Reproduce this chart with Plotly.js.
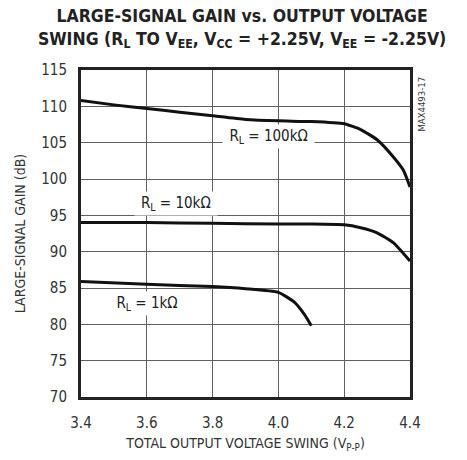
<!DOCTYPE html>
<html><head><meta charset="utf-8">
<script src="https://cdn.plot.ly/plotly-3.0.1.min.js"></script>
<style>body{margin:0;background:#fff}#c{width:467px;height:460px}
.main-svg text{font-stretch:condensed !important}</style>
</head><body><div id="c"></div>
<script>
const x100k = [3.4, 3.5, 3.6, 3.7, 3.8, 3.9, 4.0, 4.1, 4.2, 4.25, 4.3, 4.35, 4.38, 4.4];
const y100k = [110.8, 110.2, 109.7, 109.2, 108.7, 108.2, 108.0, 107.9, 107.6, 106.8, 105.4, 103.0, 101.2, 98.9];
const x10k = [3.4, 3.6, 3.8, 4.0, 4.1, 4.2, 4.25, 4.3, 4.35, 4.4];
const y10k = [94.0, 94.0, 93.9, 93.8, 93.8, 93.7, 93.3, 92.6, 91.2, 88.7];
const x1k = [3.4, 3.6, 3.8, 3.9, 4.0, 4.05, 4.08, 4.1];
const y1k = [85.9, 85.5, 85.2, 84.9, 84.4, 83.0, 81.3, 79.8];
const xTicks = [3.4, 3.6, 3.8, 4.0, 4.2, 4.4];
const xTickText = ['3.4', '3.6', '3.8', '4.0', '4.2', '4.4'];
const yTicks = [70, 75, 80, 85, 90, 95, 100, 105, 110, 115];

const FONT = '"DejaVu Sans", sans-serif';
const line = {color: '#111', width: 3, shape: 'spline', smoothing: 0.5};
const traces = [
  {x: x100k, y: y100k, mode: 'lines', line: line, hoverinfo: 'skip'},
  {x: x10k, y: y10k, mode: 'lines', line: line, hoverinfo: 'skip'},
  {x: x1k, y: y1k, mode: 'lines', line: line, hoverinfo: 'skip'}
];
const lab = {font: {family: FONT, size: 15, color: '#222'}, bgcolor: '#fff', showarrow: false, borderpad: 2};
const layout = {
  width: 467, height: 460,
  margin: {l: 81, r: 57, t: 70, b: 63},
  paper_bgcolor: '#fff', plot_bgcolor: '#fff',
  showlegend: false,
  xaxis: {range: [3.4, 4.4], tickvals: xTicks, ticktext: xTickText, showgrid: true, gridcolor: '#606060', gridwidth: 1,
    zeroline: false, showline: true, mirror: true, linecolor: '#222', linewidth: 3,
    ticks: 'outside', ticklen: 10, tickcolor: 'rgba(0,0,0,0)',
    tickfont: {family: FONT, size: 15, color: '#333'},
    title: {text: 'TOTAL OUTPUT VOLTAGE SWING (V<sub>P-P</sub>)', font: {family: FONT, size: 14, color: '#333'}, standoff: 8}},
  yaxis: {range: [70, 115], tickvals: yTicks, showgrid: true, gridcolor: '#606060', gridwidth: 1,
    zeroline: false, showline: true, mirror: true, linecolor: '#222', linewidth: 3,
    ticks: 'outside', ticklen: 8, tickcolor: 'rgba(0,0,0,0)',
    tickfont: {family: FONT, size: 15, color: '#333'},
    title: {text: 'LARGE-SIGNAL GAIN (dB)', font: {family: FONT, size: 14, color: '#333'}, standoff: 10}},
  annotations: [
    {xref: 'paper', yref: 'paper', x: 0.49, y: 1.128, xanchor: 'center', yanchor: 'middle', showarrow: false,
      text: '<b>LARGE-SIGNAL GAIN vs. OUTPUT VOLTAGE<br>SWING (R<sub>L</sub> TO V<sub>EE</sub>, V<sub>CC</sub> = +2.25V, V<sub>EE</sub> = -2.25V)</b>',
      font: {family: FONT, size: 17.5, color: '#222'}},
    Object.assign({x: 3.97, y: 105.8, text: 'R<sub>L</sub> = 100kΩ'}, lab),
    Object.assign({x: 3.69, y: 96.6, text: 'R<sub>L</sub> = 10kΩ'}, lab),
    Object.assign({x: 3.6, y: 82.8, text: 'R<sub>L</sub> = 1kΩ'}, lab),
    {xref: 'paper', yref: 'paper', x: 1.035, y: 0.995, xanchor: 'center', yanchor: 'top', text: 'MAX4493-17', textangle: -90,
      showarrow: false, font: {family: FONT, size: 9.5, color: '#333'}}
  ]
};
Plotly.newPlot('c', traces, layout, {displayModeBar: false, staticPlot: true});
</script></body></html>
